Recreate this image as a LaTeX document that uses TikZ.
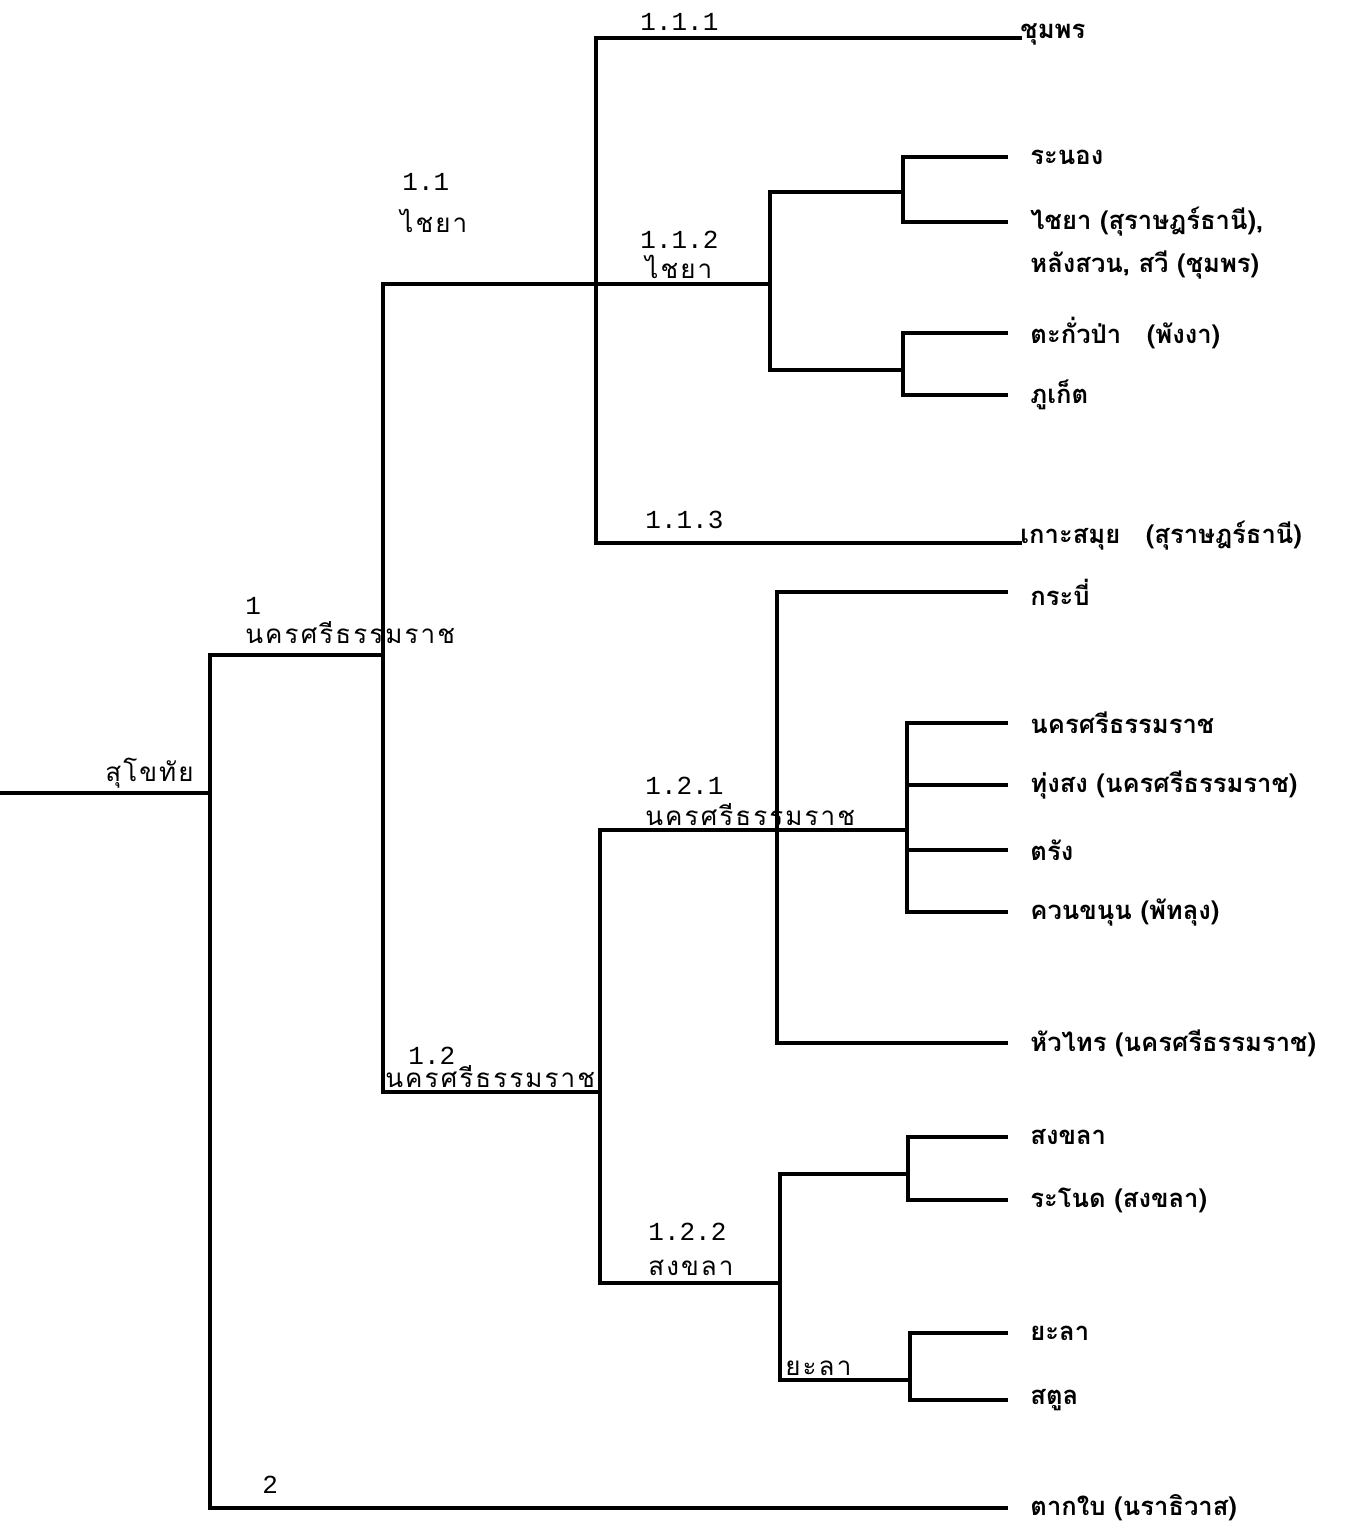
\documentclass[tikz,border=0pt]{standalone}
\usepackage{fontspec}
\newfontfamily\thai[Script=Thai]{Loma}
\newfontfamily\thaiw[Script=Thai,LetterSpace=8]{Loma}
\setmonofont{Liberation Mono}
\begin{document}
\begin{tikzpicture}[x=0.5pt,y=-0.5pt,
  ln/.style={line width=1.6pt,line cap=rect},
  leaf/.style={anchor=west,inner sep=0pt,font=\thai\fontsize{12.8pt}{15pt}\selectfont\bfseries},
  leafb/.style={anchor=base west,inner sep=0pt,font=\thai\fontsize{12.8pt}{15pt}\selectfont\bfseries},
  num/.style={anchor=base west,inner sep=0pt,font=\ttfamily\fontsize{13pt}{15pt}\selectfont},
  lab/.style={anchor=base west,inner sep=0pt,font=\thaiw\fontsize{13pt}{15pt}\selectfont}]
\useasboundingbox (0,0) rectangle (1347,1528);
% junction coordinates
\coordinate (r0) at (0,793);
\coordinate (a0) at (210,793);
\coordinate (a1) at (210,655);
\coordinate (a2) at (210,1508);
\coordinate (b1) at (383,655);
\coordinate (b0) at (383,284);
\coordinate (b2) at (383,1092);
\coordinate (c0) at (596,284);
\coordinate (c1) at (596,38);
\coordinate (c3) at (596,543);
\coordinate (d0) at (770,284);
\coordinate (d1) at (770,192);
\coordinate (d2) at (770,370);
\coordinate (e1) at (903,192);
\coordinate (e1a) at (903,157);
\coordinate (e1b) at (903,222);
\coordinate (e2) at (903,370);
\coordinate (e2a) at (903,333);
\coordinate (e2b) at (903,395);
\coordinate (f0) at (600,1092);
\coordinate (f1) at (600,830);
\coordinate (f2) at (600,1283);
\coordinate (g1) at (777,830);
\coordinate (g1a) at (777,592);
\coordinate (g1b) at (777,1043);
\coordinate (h1) at (907,830);
\coordinate (h1a) at (907,723);
\coordinate (h1b) at (907,785);
\coordinate (h1c) at (907,850);
\coordinate (h1d) at (907,912);
\coordinate (g2) at (780,1283);
\coordinate (g2a) at (780,1174);
\coordinate (g2b) at (780,1380);
\coordinate (k1) at (908,1174);
\coordinate (k1a) at (908,1137);
\coordinate (k1b) at (908,1200);
\coordinate (k2) at (910,1380);
\coordinate (k2a) at (910,1333);
\coordinate (k2b) at (910,1400);
% leaves
\node[leafb] (l1) at (1020,38) {ชุมพร};
\node[leaf] (l2) at (1030,157) {ระนอง};
\node[leaf] (l3) at (1030,222) {ไชยา (สุราษฎร์ธานี),};
\node[leaf] (l3b) at (1030,265) {หลังสวน, สวี (ชุมพร)};
\node[leaf] (l4) at (1030,333) {ตะกั่วป่า\quad (พังงา)};
\node[leaf] (l5) at (1030,395) {ภูเก็ต};
\node[leafb] (l6) at (1020,543) {เกาะสมุย\quad (สุราษฎร์ธานี)};
\node[leaf] (l7) at (1030,592) {กระบี่};
\node[leaf] (l8) at (1030,723) {นครศรีธรรมราช};
\node[leaf] (l9) at (1030,785) {ทุ่งสง (นครศรีธรรมราช)};
\node[leaf] (l10) at (1030,850) {ตรัง};
\node[leaf] (l11) at (1030,912) {ควนขนุน (พัทลุง)};
\node[leaf] (l12) at (1030,1043) {หัวไทร (นครศรีธรรมราช)};
\node[leaf] (l13) at (1030,1137) {สงขลา};
\node[leaf] (l14) at (1030,1200) {ระโนด (สงขลา)};
\node[leaf] (l15) at (1030,1333) {ยะลา};
\node[leaf] (l16) at (1030,1400) {สตูล};
\node[leaf] (l17) at (1030,1508) {ตากใบ (นราธิวาส)};
% tree
\draw[ln] (r0) -- (a0);
\draw[ln] (a1) -- (a2);
\draw[ln] (a1) -- (b1);
\draw[ln] (b0) -- (b2);
\draw[ln] (b0) -- (c0) -- (d0);
\draw[ln] (c1) -- (c3);
\draw[ln] (c1) -- (l1.base west);
\draw[ln] (c3) -- (l6.base west);
\draw[ln] (d1) -- (d2);
\draw[ln] (d1) -- (e1);
\draw[ln] (d2) -- (e2);
\draw[ln] (e1a) -- (e1b);
\draw[ln] (e2a) -- (e2b);
\draw[ln] (e1a) -- ([xshift=-12]l2.west);
\draw[ln] (e1b) -- ([xshift=-12]l3.west);
\draw[ln] (e2a) -- ([xshift=-12]l4.west);
\draw[ln] (e2b) -- ([xshift=-12]l5.west);
\draw[ln] (b2) -- (f0);
\draw[ln] (f1) -- (f2);
\draw[ln] (f1) -- (g1) -- (h1);
\draw[ln] (g1a) -- (g1b);
\draw[ln] (g1a) -- ([xshift=-12]l7.west);
\draw[ln] (g1b) -- ([xshift=-12]l12.west);
\draw[ln] (h1a) -- (h1d);
\draw[ln] (h1a) -- ([xshift=-12]l8.west);
\draw[ln] (h1b) -- ([xshift=-12]l9.west);
\draw[ln] (h1c) -- ([xshift=-12]l10.west);
\draw[ln] (h1d) -- ([xshift=-12]l11.west);
\draw[ln] (f2) -- (g2);
\draw[ln] (g2a) -- (g2b);
\draw[ln] (g2a) -- (k1);
\draw[ln] (g2b) -- (k2);
\draw[ln] (k1a) -- (k1b);
\draw[ln] (k2a) -- (k2b);
\draw[ln] (k1a) -- ([xshift=-12]l13.west);
\draw[ln] (k1b) -- ([xshift=-12]l14.west);
\draw[ln] (k2a) -- ([xshift=-12]l15.west);
\draw[ln] (k2b) -- ([xshift=-12]l16.west);
\draw[ln] (a2) -- ([xshift=-12]l17.west);
% labels
\node[lab] (t0) at (105,781) {สุโขทัย};
\node[num] (n1) at (245,614) {1};
\node[lab] (t1) at (245,643) {นครศรีธรรมราช};
\node[num] (n11) at (402,190) {1.1};
\node[lab] (t11) at (400,232) {ไชยา};
\node[num] (n111) at (640,30) {1.1.1};
\node[num] (n112) at (640,248) {1.1.2};
\node[lab] (t112) at (645,278) {ไชยา};
\node[num] (n113) at (645,528) {1.1.3};
\node[num] (n12) at (408,1064) {1.2};
\node[lab] (t12) at (385,1087) {นครศรีธรรมราช};
\node[num] (n121) at (645,794) {1.2.1};
\node[lab] (t121) at (645,825) {นครศรีธรรมราช};
\node[num] (n122) at (648,1240) {1.2.2};
\node[lab] (t122) at (648,1275) {สงขลา};
\node[lab] (t15) at (785,1375) {ยะลา};
\node[num] (n2) at (262,1493) {2};
\end{tikzpicture}
\end{document}
